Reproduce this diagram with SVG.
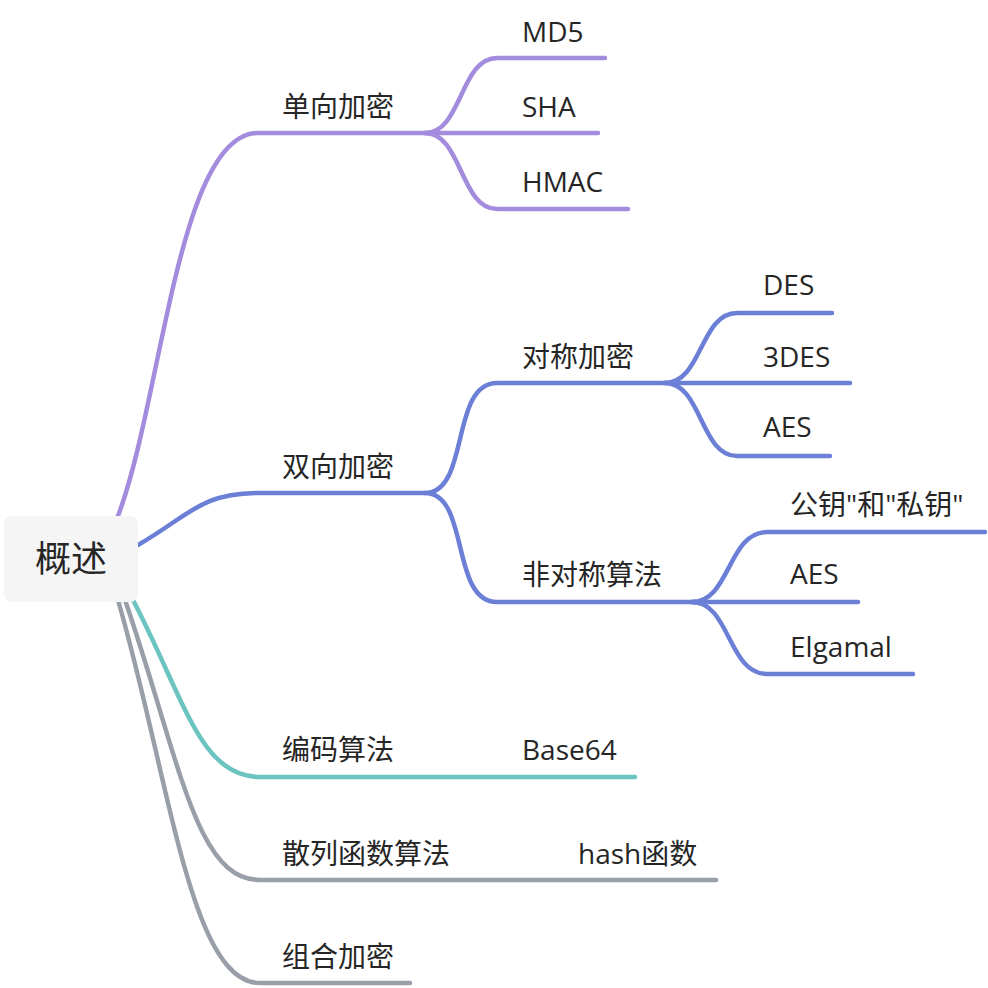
<svg xmlns="http://www.w3.org/2000/svg" width="988" height="988" viewBox="0 0 988 988">
<style>
.l{fill:none;stroke-width:4.5;stroke-linecap:round;stroke-linejoin:round}
.p{stroke:#a38cdd}.b{stroke:#6b7fd7}.t{stroke:#6cc4c1}.g{stroke:#999fa8}
text{font-family:"Open Sans","Noto Sans CJK SC",sans-serif;font-size:28px;fill:#262626}
.r{font-size:36px}
</style>
<rect width="988" height="988" fill="#ffffff"/>
<g id="connectors">
<path class="l p" d="M118 516 C162 400,178 133,258 133 L425 133"/>
<path class="l p" d="M425 133 C462 133,460 58,497 58 L605 58"/>
<path class="l p" d="M425 133 L598 133"/>
<path class="l p" d="M425 133 C462 133,460 209,497 209 L628 209"/>
<path class="l b" d="M138 545 C190 515,200 493,260 493 L425 493"/>
<path class="l b" d="M425 493 C470 493,450 383,497 383 L665 383"/>
<path class="l b" d="M425 493 C470 493,450 602,497 602 L697 602"/>
<path class="l b" d="M665 383 C702 383,700 313,737 313 L832 313"/>
<path class="l b" d="M665 383 L850 383"/>
<path class="l b" d="M665 383 C702 383,700 456,737 456 L830 456"/>
<path class="l b" d="M692 602 C730 602,728 532,767 532 L985 532"/>
<path class="l b" d="M692 602 L858 602"/>
<path class="l b" d="M692 602 C730 602,728 674,767 674 L913 674"/>
<path class="l t" d="M133 600 C185 700,200 777,260 777 L635 777"/>
<path class="l g" d="M125 600 C180 760,195 880,260 880 L716 880"/>
<path class="l g" d="M118 600 C170 780,190 983,260 983 L410 983"/>
</g>
<g id="root"><rect x="4" y="516" width="134" height="86" rx="8" fill="#f5f5f5"/><text class="r" x="71" y="572" text-anchor="middle">概述</text></g>
<g id="n1"><text x="282" y="117">单向加密</text></g>
<g id="n1a"><text x="522" y="42">MD5</text></g>
<g id="n1b"><text x="522" y="117">SHA</text></g>
<g id="n1c"><text x="522" y="192">HMAC</text></g>
<g id="n2"><text x="282" y="477">双向加密</text></g>
<g id="n2a"><text x="522" y="367">对称加密</text></g>
<g id="n2a1"><text x="763" y="295">DES</text></g>
<g id="n2a2"><text x="763" y="367">3DES</text></g>
<g id="n2a3"><text x="763" y="437">AES</text></g>
<g id="n2b"><text x="522" y="585">非对称算法</text></g>
<g id="n2b1"><text x="790" y="515">公钥"和"私钥"</text></g>
<g id="n2b2"><text x="790" y="584">AES</text></g>
<g id="n2b3"><text x="790" y="657">Elgamal</text></g>
<g id="n3"><text x="282" y="760">编码算法</text></g>
<g id="n3a"><text x="522" y="760">Base64</text></g>
<g id="n4"><text x="282" y="864">散列函数算法</text></g>
<g id="n4a"><text x="578" y="864">hash函数</text></g>
<g id="n5"><text x="282" y="967">组合加密</text></g>
</svg>
